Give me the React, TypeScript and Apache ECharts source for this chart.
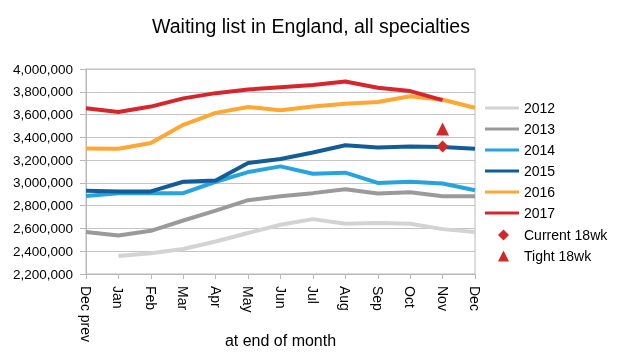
import React, { useEffect, useRef } from "react";
import * as echarts from "echarts";

const months = ["Dec prev", "Jan", "Feb", "Mar", "Apr", "May", "Jun", "Jul", "Aug", "Sep", "Oct", "Nov", "Dec"];
const yearNames = ["2012", "2013", "2014", "2015", "2016", "2017"];
const yearColors = ["#d3d3d3", "#9a9a9a", "#27a3dd", "#125d98", "#ffa733", "#d6262b"];

const s2012 = [null, 2359000, 2382000, 2420000, 2485000, 2560000, 2632000, 2682000, 2641000, 2647000, 2641000, 2594000, 2568000];
const s2013 = [2568000, 2538000, 2579000, 2670000, 2756000, 2848000, 2882000, 2910000, 2945000, 2906000, 2918000, 2882000, 2882000];
const s2014 = [2885000, 2910000, 2910000, 2910000, 3010000, 3095000, 3145000, 3080000, 3090000, 3000000, 3010000, 2995000, 2935000];
const s2015 = [2930000, 2925000, 2925000, 3010000, 3020000, 3175000, 3210000, 3267000, 3330000, 3310000, 3320000, 3315000, 3300000];
const s2016 = [3302000, 3300000, 3350000, 3510000, 3615000, 3667000, 3638000, 3670000, 3695000, 3710000, 3760000, 3730000, 3660000];
const s2017 = [3655000, 3623000, 3670000, 3742000, 3788000, 3820000, 3840000, 3860000, 3890000, 3835000, 3806000, 3727000, null];
const currentWk = [null, null, null, null, null, null, null, null, null, null, null, 3319000, null];
const tightWk = [null, null, null, null, null, null, null, null, null, null, null, 3474000, null];

const yearData = [s2012, s2013, s2014, s2015, s2016, s2017];
const markerColor = "#cf2a2a";
const FONT = "Liberation Sans, Arial, Helvetica, sans-serif";

export default function App() {
  const ref = useRef<HTMLDivElement>(null);
  useEffect(() => {
    if (!ref.current) return;
    const chart = echarts.init(ref.current, null, { renderer: "svg" });
    const lineSeries = yearNames.map((name, i) => ({
      name,
      type: "line",
      data: yearData[i],
      symbol: "none",
      connectNulls: false,
      lineStyle: { width: 4, color: yearColors[i] },
      itemStyle: { color: yearColors[i] },
      z: 2 + i,
    }));
    chart.setOption({
      animation: false,
      textStyle: { fontFamily: FONT },
      title: {
        text: "Waiting list in England, all specialties",
        left: 306,
        textAlign: "center",
        top: 11,
        textStyle: { fontSize: 19.5, fontWeight: "normal", color: "#000", fontFamily: FONT },
      },
      grid: {
        left: 86,
        right: 144,
        top: 69,
        bottom: 80,
        outerBoundsMode: "none",
        containLabel: false,
        show: true,
        borderColor: "#b8b8b8",
        borderWidth: 1,
      },
      legend: [
        {
          orient: "vertical",
          left: 480,
          top: 95,
          itemWidth: 34,
          itemHeight: 3,
          itemGap: 5,
          icon: "rect",
          data: yearNames,
          textStyle: { fontSize: 14, lineHeight: 16, color: "#000", fontFamily: FONT },
        },
        {
          orient: "vertical",
          left: 493,
          top: 222,
          itemWidth: 11,
          itemHeight: 11,
          itemGap: 5,
          data: [
            { name: "Current 18wk", icon: "diamond" },
            { name: "Tight 18wk", icon: "triangle" },
          ],
          textStyle: { fontSize: 14, lineHeight: 16, color: "#000", fontFamily: FONT, padding: [0, 0, 0, 10] },
        },
      ],
      xAxis: {
        type: "category",
        data: months,
        boundaryGap: false,
        name: "at end of month",
        nameLocation: "middle",
        nameGap: 58,
        nameMoveOverlap: false,
        nameTextStyle: { fontSize: 16, color: "#000", fontFamily: FONT },
        axisLine: { lineStyle: { color: "#b8b8b8" } },
        axisTick: { show: true, length: 5, lineStyle: { color: "#b8b8b8" } },
        axisLabel: { rotate: -90, fontSize: 14, color: "#000", margin: 12, fontFamily: FONT },
        splitLine: { show: false },
      },
      yAxis: {
        type: "value",
        min: 2200000,
        max: 4000000,
        interval: 200000,
        axisLine: { show: true, lineStyle: { color: "#b8b8b8" } },
        axisTick: { show: true, length: 6, lineStyle: { color: "#b8b8b8" } },
        axisLabel: {
          fontSize: 13.5,
          color: "#000",
          margin: 13,
          fontFamily: FONT,
          formatter: (v: number) => v.toLocaleString("en-US"),
        },
        splitLine: { lineStyle: { color: "#c4c4c4" } },
      },
      series: [
        ...lineSeries,
        {
          name: "Current 18wk",
          type: "line",
          data: currentWk,
          showSymbol: true,
          symbol: "diamond",
          symbolSize: 12,
          lineStyle: { width: 0 },
          itemStyle: { color: markerColor },
          z: 10,
        },
        {
          name: "Tight 18wk",
          type: "line",
          data: tightWk,
          showSymbol: true,
          symbol: "triangle",
          symbolSize: 13,
          lineStyle: { width: 0 },
          itemStyle: { color: markerColor },
          z: 10,
        },
      ],
    });
    return () => chart.dispose();
  }, []);
  return <div ref={ref} style={{ position: "fixed", left: 0, top: 0, width: 619, height: 354 }} />;
}
